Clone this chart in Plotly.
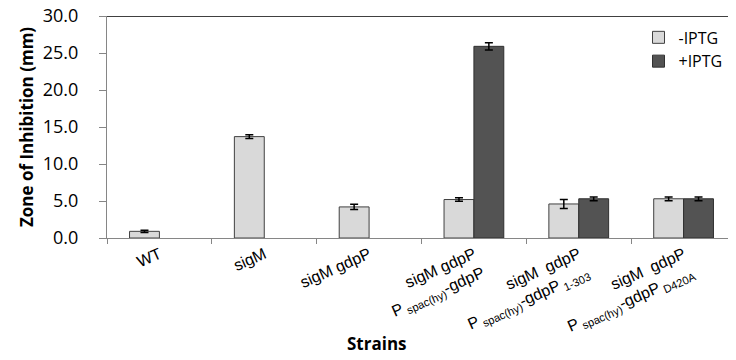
import plotly.graph_objects as go

categories = [
    "WT",
    "sigM",
    "sigM gdpP",
    "sigM gdpP<br>P<sub> spac(hy)</sub>-gdpP",
    "sigM  gdpP<br>P<sub> spac(hy)</sub>-gdpP<sub> 1-303</sub>",
    "sigM  gdpP<br>P<sub> spac(hy)</sub>-gdpP<sub> D420A</sub>",
]
minus_iptg = [0.9, 13.7, 4.2, 5.2, 4.6, 5.3]
minus_err = [0.15, 0.25, 0.35, 0.25, 0.6, 0.25]
plus_iptg = [None, None, None, 25.9, 5.3, 5.3]
plus_err = [None, None, None, 0.5, 0.25, 0.25]
y_ticks = [0, 5, 10, 15, 20, 25, 30]

fig = go.Figure()
fig.add_trace(go.Bar(
    name="-IPTG", x=categories, y=minus_iptg,
    marker=dict(color="#d9d9d9", line=dict(color="#404040", width=1)),
    error_y=dict(type="data", array=minus_err, color="black", thickness=1.5, width=4),
))
fig.add_trace(go.Bar(
    name="+IPTG", x=categories, y=plus_iptg,
    marker=dict(color="#535353", line=dict(color="#303030", width=1)),
    error_y=dict(type="data", array=plus_err, color="black", thickness=1.5, width=4),
))

fig.add_shape(type="line", xref="paper", yref="y", x0=0, x1=1, y0=30, y1=30,
              line=dict(color="black", width=1.5))

fig.add_annotation(text="<b>Strains</b>", xref="paper", yref="paper",
                   x=0.429, y=-0.473, xanchor="center", yanchor="middle",
                   showarrow=False, font=dict(family="Open Sans", size=17, color="black"))

fig.update_layout(
    width=728, height=352,
    margin=dict(l=99, r=0, t=8, b=122),
    paper_bgcolor="white", plot_bgcolor="white",
    barmode="group", bargap=0.43, bargroupgap=0,
    font=dict(family="Open Sans", color="black"),
    legend=dict(x=0.845, y=0.98, xanchor="left", yanchor="top", itemwidth=30,
                font=dict(family="Open Sans", size=16), tracegroupgap=0,
                bgcolor="rgba(0,0,0,0)"),
    xaxis=dict(
        tickangle=-24, tickson="boundaries", ticks="outside", ticklen=5,
        tickcolor="#868686", showline=True, linecolor="#868686", linewidth=1,
        tickfont=dict(family="Liberation Sans", size=16, color="black"),
        showgrid=False, automargin=False,
    ),
    yaxis=dict(
        range=[0, 30], tickvals=y_ticks, tickformat=".1f",
        ticks="outside", ticklen=7, tickcolor="#868686",
        ticklabelstandoff=17, ticklabeloverflow="allow",
        showline=True, linecolor="#868686", linewidth=1, showgrid=False, zeroline=False,
        tickfont=dict(family="Open Sans", size=18, color="black"),
        title=dict(text="<b>Zone of Inhibition (mm)</b>", font=dict(family="Open Sans", size=17), standoff=4),
        automargin=False,
    ),
)

fig.write_html("out.html")
